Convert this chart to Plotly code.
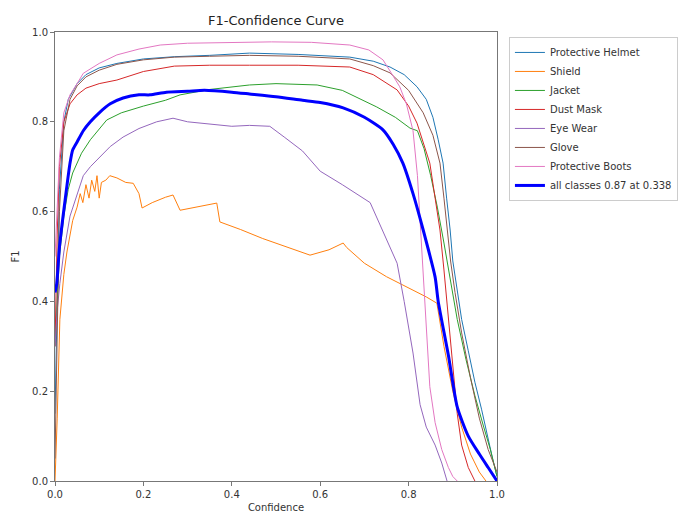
import plotly.graph_objects as go

# ---- data ----
helmet_x = [0, 0.005, 0.01, 0.02, 0.03, 0.05, 0.07, 0.1, 0.14, 0.2, 0.27, 0.35, 0.44, 0.55, 0.667, 0.72, 0.758, 0.79, 0.819, 0.84, 0.855, 0.867, 0.878, 0.886, 0.894, 0.9, 0.91, 0.92, 0.935, 0.95, 0.965, 0.98, 0.99, 1.0]
helmet_y = [0.15, 0.45, 0.65, 0.80, 0.85, 0.885, 0.905, 0.92, 0.93, 0.94, 0.945, 0.948, 0.953, 0.95, 0.944, 0.935, 0.922, 0.905, 0.878, 0.85, 0.81, 0.76, 0.708, 0.63, 0.559, 0.49, 0.42, 0.36, 0.29, 0.22, 0.16, 0.09, 0.05, 0.01]

shield_x = [0, 0.005, 0.011, 0.02, 0.027, 0.04, 0.05, 0.057, 0.063, 0.07, 0.077, 0.083, 0.09, 0.095, 0.1, 0.105, 0.115, 0.124, 0.14, 0.16, 0.177, 0.19, 0.197, 0.22, 0.25, 0.267, 0.283, 0.31, 0.34, 0.366, 0.373, 0.42, 0.47, 0.532, 0.577, 0.62, 0.652, 0.66, 0.7, 0.75, 0.8, 0.84, 0.864, 0.88, 0.9, 0.92, 0.94, 0.96, 0.975]
shield_y = [0.0, 0.14, 0.36, 0.46, 0.51, 0.58, 0.61, 0.64, 0.62, 0.66, 0.63, 0.67, 0.645, 0.68, 0.63, 0.665, 0.67, 0.68, 0.675, 0.665, 0.663, 0.64, 0.608, 0.62, 0.632, 0.637, 0.603, 0.608, 0.613, 0.619, 0.577, 0.56, 0.54, 0.519, 0.503, 0.515, 0.53, 0.52, 0.485, 0.455, 0.43, 0.41, 0.396, 0.3, 0.2, 0.12, 0.06, 0.02, 0.0]

jacket_x = [0, 0.005, 0.01, 0.02, 0.03, 0.04, 0.06, 0.08, 0.117, 0.15, 0.2, 0.25, 0.283, 0.35, 0.44, 0.5, 0.593, 0.65, 0.728, 0.77, 0.803, 0.82, 0.835, 0.85, 0.865, 0.88, 0.895, 0.91, 0.93, 0.95, 0.97, 0.985, 1.0]
jacket_y = [0.3, 0.42, 0.5, 0.59, 0.65, 0.686, 0.73, 0.76, 0.804, 0.82, 0.835, 0.848, 0.86, 0.872, 0.882, 0.885, 0.882, 0.87, 0.833, 0.81, 0.786, 0.78, 0.74, 0.68, 0.61, 0.53, 0.44, 0.36, 0.27, 0.19, 0.12, 0.07, 0.01]

dust_x = [0, 0.005, 0.01, 0.02, 0.034, 0.05, 0.07, 0.1, 0.14, 0.2, 0.27, 0.35, 0.44, 0.55, 0.667, 0.72, 0.774, 0.8, 0.819, 0.835, 0.848, 0.86, 0.871, 0.88, 0.89, 0.9, 0.91, 0.92, 0.935, 0.95]
dust_y = [0.3, 0.55, 0.7, 0.8, 0.84, 0.86, 0.875, 0.885, 0.893, 0.912, 0.924, 0.926, 0.926, 0.926, 0.922, 0.905, 0.871, 0.835, 0.797, 0.75, 0.708, 0.63, 0.559, 0.47, 0.36, 0.25, 0.15, 0.08, 0.03, 0.0]

eye_x = [0, 0.005, 0.011, 0.02, 0.034, 0.05, 0.064, 0.08, 0.1, 0.125, 0.154, 0.19, 0.23, 0.267, 0.3, 0.35, 0.4, 0.44, 0.486, 0.52, 0.56, 0.6, 0.65, 0.713, 0.74, 0.774, 0.79, 0.81, 0.826, 0.84, 0.86, 0.875, 0.887]
eye_y = [0.3, 0.38, 0.44, 0.51, 0.59, 0.64, 0.68, 0.70, 0.72, 0.745, 0.766, 0.785, 0.80, 0.808, 0.80, 0.795, 0.79, 0.792, 0.79, 0.765, 0.735, 0.69, 0.66, 0.62, 0.56, 0.485, 0.40, 0.285, 0.17, 0.12, 0.08, 0.04, 0.0]

glove_x = [0, 0.005, 0.01, 0.02, 0.034, 0.05, 0.07, 0.1, 0.14, 0.2, 0.27, 0.35, 0.44, 0.55, 0.667, 0.72, 0.758, 0.8, 0.833, 0.855, 0.871, 0.88, 0.887, 0.895, 0.905, 0.92, 0.94, 0.96, 0.98, 1.0]
glove_y = [0.05, 0.35, 0.6, 0.78, 0.85, 0.88, 0.9, 0.915, 0.928, 0.938, 0.944, 0.946, 0.948, 0.946, 0.94, 0.925, 0.909, 0.87, 0.82, 0.77, 0.708, 0.63, 0.559, 0.49, 0.42, 0.33, 0.23, 0.14, 0.07, 0.02]

boots_x = [0, 0.005, 0.01, 0.02, 0.034, 0.05, 0.064, 0.1, 0.14, 0.19, 0.238, 0.3, 0.4, 0.49, 0.58, 0.667, 0.71, 0.742, 0.76, 0.78, 0.795, 0.81, 0.82, 0.83, 0.84, 0.848, 0.86, 0.875, 0.89, 0.9, 0.91]
boots_y = [0.5, 0.62, 0.72, 0.82, 0.86, 0.885, 0.908, 0.93, 0.949, 0.962, 0.971, 0.975, 0.977, 0.978, 0.977, 0.971, 0.96, 0.938, 0.91, 0.878, 0.84, 0.78, 0.68, 0.52, 0.36, 0.21, 0.13, 0.07, 0.03, 0.01, 0.0]

all_x = [0, 0.004, 0.01, 0.018, 0.026, 0.034, 0.04, 0.05, 0.064, 0.08, 0.1, 0.125, 0.154, 0.19, 0.215, 0.252, 0.3, 0.338, 0.4, 0.44, 0.5, 0.56, 0.6, 0.652, 0.7, 0.742, 0.765, 0.787, 0.81, 0.833, 0.86, 0.867, 0.89, 0.91, 0.935, 0.96, 0.98, 1.0]
all_y = [0.42, 0.44, 0.52, 0.588, 0.65, 0.708, 0.737, 0.755, 0.78, 0.80, 0.82, 0.84, 0.853, 0.86, 0.86, 0.866, 0.868, 0.87, 0.866, 0.862, 0.856, 0.848, 0.843, 0.831, 0.81, 0.782, 0.75, 0.708, 0.64, 0.559, 0.454, 0.40, 0.28, 0.165, 0.1, 0.06, 0.03, 0.0]

series = [
    ("Protective Helmet", helmet_x, helmet_y, "#1f77b4"),
    ("Shield", shield_x, shield_y, "#ff7f0e"),
    ("Jacket", jacket_x, jacket_y, "#2ca02c"),
    ("Dust Mask", dust_x, dust_y, "#d62728"),
    ("Eye Wear", eye_x, eye_y, "#9467bd"),
    ("Glove", glove_x, glove_y, "#8c564b"),
    ("Protective Boots", boots_x, boots_y, "#e377c2"),
]
all_label = "all classes 0.87 at 0.338"
tick_vals = [0.0, 0.2, 0.4, 0.6, 0.8, 1.0]

fig = go.Figure()
for name, xs, ys, col in series:
    fig.add_trace(go.Scatter(x=xs, y=ys, mode="lines", name=name,
                             line=dict(color=col, width=1)))
fig.add_trace(go.Scatter(x=all_x, y=all_y, mode="lines", name=all_label,
                         line=dict(color="#0000ff", width=3, shape="spline", smoothing=0.6)))

font = "DejaVu Sans, sans-serif"
axis_common = dict(range=[0, 1], tickvals=tick_vals, tickformat=".1f", automargin=False,
                   showgrid=False, zeroline=False, showline=True, mirror=True,
                   linecolor="#777777", linewidth=1, ticks="outside", ticklen=4,
                   tickcolor="#777777", tickfont=dict(size=10, color="#333333", family=font))
# the page body has an 8px margin, so the figure is sized/placed to compensate
W, H = 679, 510
fig.update_layout(
    width=W, height=H,
    margin=dict(l=47, r=190, t=24, b=37, autoexpand=False),
    paper_bgcolor="white", plot_bgcolor="white",
    font=dict(family=font, size=10, color="#333333"),
    title=dict(text="F1-Confidence Curve", x=(47 + 442 / 2) / W, xanchor="center",
               y=1 - 12 / H, yanchor="middle", automargin=False,
               font=dict(size=13, color="#222222")),
    xaxis=dict(title=dict(text="Confidence", standoff=4, font=dict(size=10)), **axis_common),
    yaxis=dict(title=dict(text="F1", standoff=10, font=dict(size=10)), **axis_common),
    legend=dict(x=1.027, y=0.989, xanchor="left", yanchor="top",
                bgcolor="white", bordercolor="#cccccc", borderwidth=1,
                font=dict(size=10, color="#333333", family=font), tracegroupgap=0),
    showlegend=True,
)
fig.write_html("out.html")
